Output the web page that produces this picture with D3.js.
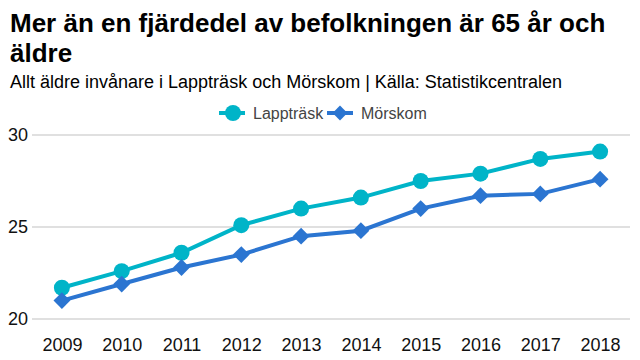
<!DOCTYPE html>
<html><head><meta charset="utf-8">
<script src="https://cdn.jsdelivr.net/npm/d3@7"></script>
<style>body{margin:0;background:#fff}svg{display:block;font-family:"Liberation Sans",Arial,sans-serif}</style>
</head><body>
<svg id="c" width="640" height="360"></svg>
<script>
const years = ["2009","2010","2011","2012","2013","2014","2015","2016","2017","2018"];
const lapptrask = [21.7,22.6,23.6,25.1,26.0,26.6,27.5,27.9,28.7,29.1];
const morskom = [21.0,21.9,22.8,23.5,24.5,24.8,26.0,26.7,26.8,27.6];
const yTicks = [20,25,30];
const seriesNames = ["Lappträsk","Mörskom"];
const colors = ["#00b4c8","#2b75d1"];

const svg = d3.select("#c");
const x = d3.scalePoint().domain(years).range([32,630]).padding(0.5);
const y = d3.scaleLinear().domain([20,30]).range([319,135]);

svg.append("text").attr("x",10).attr("y",32).attr("font-size",26).attr("font-weight","bold").attr("fill","#000")
  .text("Mer än en fjärdedel av befolkningen är 65 år och");
svg.append("text").attr("x",10).attr("y",62).attr("font-size",26).attr("font-weight","bold").attr("fill","#000")
  .text("äldre");
svg.append("text").attr("x",10).attr("y",88).attr("font-size",18).attr("fill","#000")
  .text("Allt äldre invånare i Lappträsk och Mörskom | Källa: Statistikcentralen");

// grid
svg.append("g").selectAll("line").data(yTicks).join("line")
  .attr("x1",32).attr("x2",630).attr("y1",d=>y(d)).attr("y2",d=>y(d))
  .attr("stroke","#e0e0e0").attr("stroke-width",2);

// y axis labels
const ya = svg.append("g").attr("transform","translate(28,0)")
  .call(d3.axisLeft(y).tickValues(yTicks).tickSize(0).tickPadding(0));
ya.select(".domain").remove();
ya.selectAll("text").attr("font-size",18).attr("fill","#111").attr("font-family","Liberation Sans, Arial, sans-serif");

// x axis
const xa = svg.append("g").attr("transform","translate(0,338)")
  .call(d3.axisBottom(x).tickSize(0).tickPadding(0));
xa.select(".domain").remove();
xa.selectAll("text").attr("font-size",18).attr("fill","#111").attr("dy","0.71em").attr("font-family","Liberation Sans, Arial, sans-serif");

const line = d3.line().x((d,i)=>x(years[i])).y(d=>y(d));
const data = [lapptrask, morskom];
const diamond = d3.symbol().type(d3.symbolDiamond2).size(180);
const diamondSmall = d3.symbol().type(d3.symbolDiamond2).size(140);

data.forEach((vals,si)=>{
  svg.append("path").attr("d",line(vals)).attr("fill","none").attr("stroke",colors[si]).attr("stroke-width",4);
  const g = svg.append("g");
  if(si===0){
    g.selectAll("circle").data(vals).join("circle")
      .attr("cx",(d,i)=>x(years[i])).attr("cy",d=>y(d)).attr("r",8).attr("fill",colors[si]);
  } else {
    g.selectAll("path").data(vals).join("path")
      .attr("d",diamond).attr("transform",(d,i)=>`translate(${x(years[i])},${y(d)})`).attr("fill",colors[si]);
  }
});

// legend
const leg = svg.append("g").attr("transform","translate(0,113)");
const items = [{x:219,tx:253},{x:327,tx:361}];
items.forEach((it,i)=>{
  leg.append("line").attr("x1",it.x).attr("x2",it.x+26).attr("y1",0).attr("y2",0).attr("stroke",colors[i]).attr("stroke-width",4);
  if(i===0) leg.append("circle").attr("cx",it.x+14).attr("cy",0).attr("r",8).attr("fill",colors[i]);
  else leg.append("path").attr("d",diamondSmall).attr("transform",`translate(${it.x+13},0)`).attr("fill",colors[i]);
  leg.append("text").attr("x",it.tx).attr("y",0).attr("dy","0.35em").attr("font-size",16).attr("fill","#444").text(seriesNames[i]);
});
</script>
</body></html>
